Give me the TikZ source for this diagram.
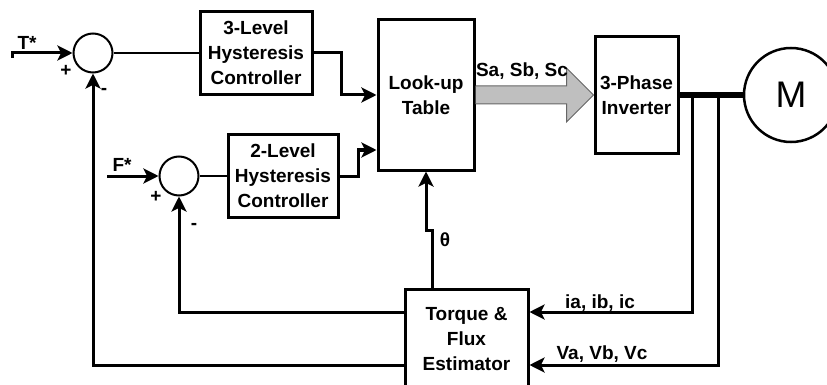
\documentclass[tikz,border=0pt]{standalone}
\usepackage{fontspec}
\setmainfont{Liberation Sans}
\usetikzlibrary{arrows.meta, calc}

\begin{document}
\begin{tikzpicture}[x=1pt, y=-1pt, line join=miter,
  font=\bfseries\fontsize{19}{25}\selectfont,
  blk/.style={draw, line width=3pt, align=center, inner sep=0pt},
  sumc/.style={draw, circle, line width=2pt, minimum size=39pt, inner sep=0pt},
  arr/.style={line width=3pt, -{Stealth[length=15pt, width=15pt, inset=3.5pt]}},
  wire/.style={line width=2pt}]
\useasboundingbox (0,0) rectangle (827,385);
% summing junctions
\node[sumc] (sum1) at (93,53) {};
\node[sumc] (sum2) at (179,176) {};
% blocks
\node[blk, minimum width=112pt, minimum height=83pt] (hyst3) at (256,53) {3-Level\\Hysteresis\\Controller};
\node[blk, minimum width=110pt, minimum height=82pt] (hyst2) at (283,176) {2-Level\\Hysteresis\\Controller};
\node[blk, minimum width=96pt, minimum height=150pt] (lut) at (426,95) {Look-up\\Table};
\node[blk, minimum width=83pt, minimum height=116pt] (inv) at (636.5,95) {3-Phase\\Inverter};
\node[blk, minimum width=123pt, minimum height=100pt] (est) at (466.5,339) {Torque \&\\Flux\\Estimator};
\node[draw, circle, line width=2.5pt, minimum size=94pt, inner sep=0pt,
  font=\mdseries\fontsize{37}{40}\selectfont] (mot) at (791,95) {M};
% free ends
\coordinate (thook) at (12,58);
\coordinate (tin) at (12,53);
\coordinate (fin) at (107,176);
\coordinate (thjog) at (432,230);
\coordinate (tapI) at ($(inv.east)+(13,0)$);
\coordinate (tapV) at ($(inv.east)+(39,0)$);
\coordinate (iin) at ($(est.east)+(0,-27)$);
\coordinate (vin) at ($(est.east)+(0,26)$);
% references
\draw[arr] (thook) -- (tin) -- (sum1.west);
\draw[arr] (fin) -- (sum2.west);
\draw[wire] (sum1.east) -- (hyst3.west);
\draw[wire] (sum2.east) -- (hyst2.west);
\draw[arr] (hyst3.east) -- ++(28,0) |- (lut.west);
\draw[arr] (hyst2.east) -- ++(19,0) |- ($(lut.west)+(0,55)$);
% switching states
\draw[fill=black!25, draw=black!60, line width=1pt] ($(lut.east)+(0,-9)$) -- ($(inv.west)+(-27,-9)$)
  -- ($(inv.west)+(-27,-27)$) -- (inv.west) -- ($(inv.west)+(-27,27)$)
  -- ($(inv.west)+(-27,9)$) -- ($(lut.east)+(0,9)$);
% motor bus and measurements
\draw[line width=6pt] (inv.east) -- (mot.west);
\draw[arr] (tapI) |- (iin);
\draw[arr] (tapV) |- (vin);
% feedback
\draw[arr] (est.north -| thjog) -- (thjog) -| (lut.south);
\draw[arr] ($(est.west)+(0,-27)$) -| (sum2.south);
\draw[arr] ($(est.west)+(0,26)$) -| (sum1.south);
% labels
\node (lT) at (27,43) {T*};
\node (lF) at (122,165) {F*};
\node (p1) at (66,71) {+};
\node (m1) at (104,91) {-};
\node (p2) at (156,197) {+};
\node (m2) at (194,226) {-};
\node (lth) at (445,240) {θ};
\node (lS) at (522,71) {Sa, Sb, Sc};
\node (lI) at (600,303) {ia, ib, ic};
\node (lV) at (602,354) {Va, Vb, Vc};
\end{tikzpicture}
\end{document}
